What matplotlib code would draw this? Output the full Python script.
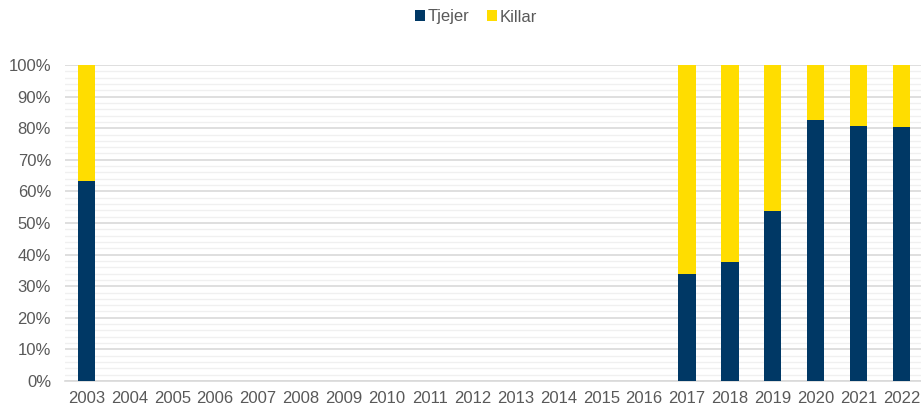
import matplotlib
matplotlib.use("Agg")
import matplotlib.pyplot as plt
import numpy as np
from matplotlib.ticker import MultipleLocator, PercentFormatter

years = [str(y) for y in range(2003, 2023)]
tjejer = [63.4, None, None, None, None, None, None, None, None, None, None, None, None, None,
          33.9, 37.8, 53.9, 82.6, 80.8, 80.5]
killar = [None if t is None else 100 - t for t in tjejer]

plt.rcParams['font.family'] = ['Liberation Sans', 'DejaVu Sans']
W, H = 921, 411
fig = plt.figure(figsize=(W / 100, H / 100), dpi=100)
ax = fig.add_axes([65 / W, (H - 381) / H, (923 - 65) / W, (381 - 65) / H])

x = np.arange(len(years))
t = np.array([np.nan if v is None else v for v in tjejer])
k = np.array([np.nan if v is None else v for v in killar])
navy = '#003865'
yellow = '#FFDD00'
ax.bar(x, t, width=0.4, color=navy, label='Tjejer', zorder=3)
ax.bar(x, k, width=0.4, bottom=t, color=yellow, label='Killar', zorder=3)

ax.set_xlim(-0.5, len(years) - 0.5)
ax.set_ylim(0, 100)
ax.yaxis.set_major_locator(MultipleLocator(10))
ax.yaxis.set_minor_locator(MultipleLocator(2))
ax.yaxis.set_major_formatter(PercentFormatter(decimals=0))
ax.grid(axis='y', which='major', color='#d9d9d9', linewidth=1.2, zorder=0)
ax.grid(axis='y', which='minor', color='#f0f0f0', linewidth=1.0, zorder=0)
ax.set_axisbelow(True)
ax.set_xticks(x)
ax.set_xticklabels(years)
for s in ['top', 'right', 'left']:
    ax.spines[s].set_visible(False)
ax.spines['bottom'].set_color('#d9d9d9')
ax.spines['bottom'].set_linewidth(1.2)
ax.tick_params(axis='both', which='both', length=0, colors='#595959', labelsize=12)
ax.tick_params(axis='x', pad=7)
ax.tick_params(axis='y', pad=10)

fig.legend(loc='center', bbox_to_anchor=(476 / W, 1 - 17 / H), ncol=2, frameon=False,
           fontsize=12, handlelength=0.6, handleheight=0.6, handletextpad=0.2,
           columnspacing=1.0, labelcolor='#595959')

fig.savefig('out.png', dpi=100)
